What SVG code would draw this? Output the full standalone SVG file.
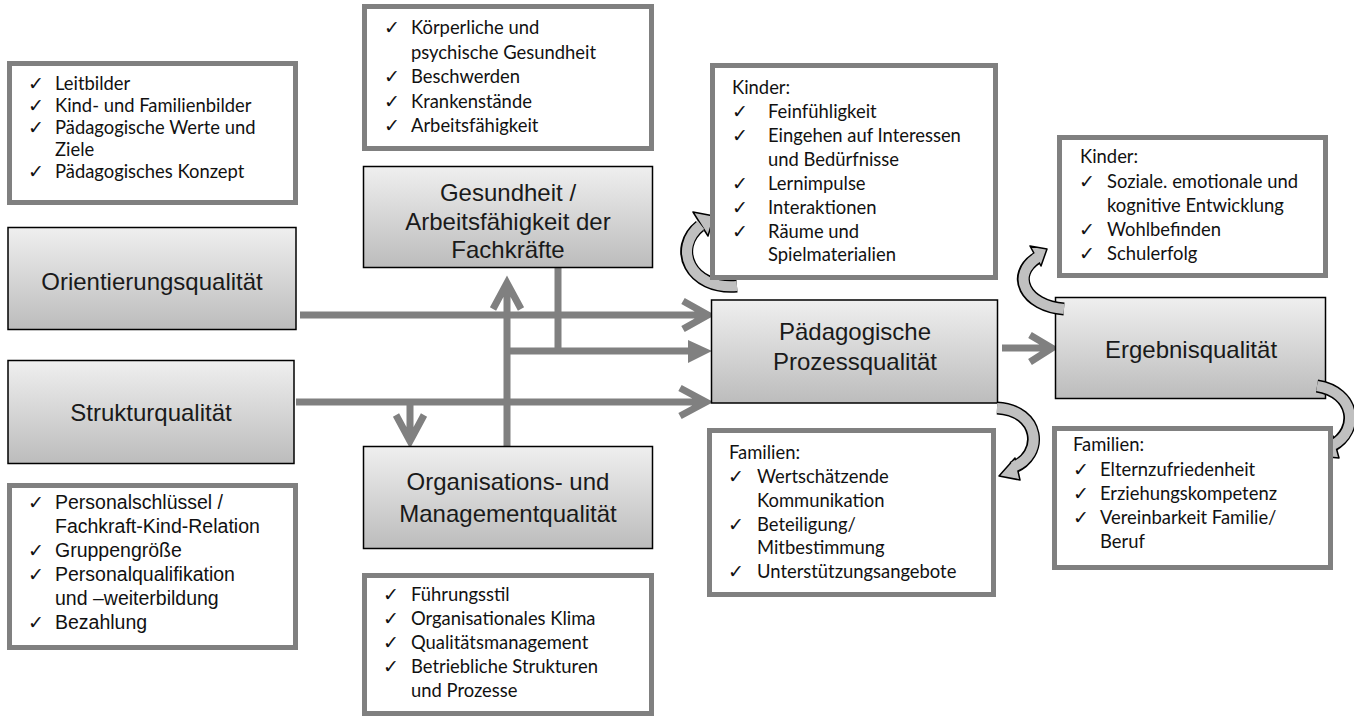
<svg xmlns="http://www.w3.org/2000/svg" width="1354" height="716" viewBox="0 0 1354 716">
<defs>
<linearGradient id="g" x1="0" y1="0" x2="0" y2="1">
<stop offset="0" stop-color="#efefef"/>
<stop offset="1" stop-color="#bcbcbc"/>
</linearGradient>
<style>
.lb{fill:#fff;stroke:#808080;stroke-width:5}
.gb{fill:url(#g);stroke:#000;stroke-width:1.5}
.gt{font-family:"Liberation Sans",Arial,sans-serif;font-size:24px;fill:#1a1a1a;text-anchor:middle}
.ct{font-family:Lato,"Open Sans",sans-serif;font-size:18.4px;fill:#111}
.at{font-family:"Liberation Sans",Arial,sans-serif;font-size:19.5px;fill:#111}
.ck{font-family:"DejaVu Sans",sans-serif;font-size:19px;fill:#111}
.ln{stroke:#808080;stroke-width:7;fill:none}
.cb{fill:none;stroke:#000;stroke-width:13}
.cg{fill:none;stroke:#c0c0c0;stroke-width:10}
.ch{fill:#c0c0c0;stroke:#000;stroke-width:1.5;stroke-linejoin:round}
</style>
</defs>

<g id="connectors">
<path class="ln" d="M300 315H706M683 301L708 315L683 329"/>
<path class="ln" d="M296 402H704M680 388L706 402L680 416"/>
<path class="ln" d="M410 402V440M396 415L410 441L424 415"/>
<path class="ln" d="M507 446V284M493 309L507 283L521 309"/>
<path class="ln" d="M558 268V351M504 351H690"/>
<polygon points="688,340 712,351 688,363" fill="#808080"/>
<path class="ln" d="M1002 348H1050M1030 335L1052 348L1030 362"/>
</g>

<g id="node-orientierung">
<rect class="gb" x="8" y="227.5" width="288" height="102"/>
<text class="gt" x="152" y="290">Orientierungsqualität</text>
</g>
<g id="node-struktur">
<rect class="gb" x="8" y="360.5" width="286" height="103"/>
<text class="gt" x="151" y="421">Strukturqualität</text>
</g>
<g id="node-gesundheit">
<rect class="gb" x="363.5" y="166.5" width="289" height="101"/>
<text class="gt" x="508" y="201">Gesundheit /</text>
<text class="gt" x="508" y="230">Arbeitsfähigkeit der</text>
<text class="gt" x="508" y="258">Fachkräfte</text>
</g>
<g id="node-organisation">
<rect class="gb" x="363.5" y="446.5" width="289" height="102"/>
<text class="gt" x="508" y="490">Organisations- und</text>
<text class="gt" x="508" y="522">Managementqualität</text>
</g>
<g id="node-prozess">
<rect class="gb" x="711.5" y="300" width="286" height="103"/>
<text class="gt" x="855" y="340">Pädagogische</text>
<text class="gt" x="855" y="370">Prozessqualität</text>
</g>
<g id="node-ergebnis">
<rect class="gb" x="1055.5" y="297.5" width="270" height="101"/>
<text class="gt" x="1191" y="358">Ergebnisqualität</text>
</g>

<g id="curved-arrows">
<path class="cb" d="M737 286C690 290 672 248 700 226"/>
<polygon class="ch" points="693,212 714,216 708,236"/>
<path class="cg" d="M737 286C690 290 672 248 701 225"/>

<path class="cb" d="M1064 309C1025 306 1010 275 1037 258"/>
<polygon class="ch" points="1030,246 1047,249 1041,266"/>
<path class="cg" d="M1064 309C1025 306 1010 275 1038 257"/>

<path class="cb" d="M997 408C1040 410 1045 455 1012 468"/>
<polygon class="ch" points="1015,458 999,476 1020,480"/>
<path class="cg" d="M997 408C1040 410 1045 455 1013 467"/>

<path class="cb" d="M1317 386C1355 392 1360 430 1332 446"/>
<polygon class="ch" points="1333,436 1317,456 1339,458"/>
<path class="cg" d="M1317 386C1355 392 1360 430 1333 445"/>
</g>

<g id="list-orientierung">
<rect class="lb" x="9.5" y="63.5" width="286" height="139"/>
<text class="ck" x="28" y="90">✓</text><text class="ct" x="55" y="90">Leitbilder</text>
<text class="ck" x="28" y="112">✓</text><text class="ct" x="55" y="112">Kind- und Familienbilder</text>
<text class="ck" x="28" y="134">✓</text><text class="ct" x="55" y="134">Pädagogische Werte und</text>
<text class="ct" x="55" y="156">Ziele</text>
<text class="ck" x="28" y="178">✓</text><text class="ct" x="55" y="178">Pädagogisches Konzept</text>
</g>

<g id="list-gesundheit">
<rect class="lb" x="364.5" y="6.5" width="287" height="142"/>
<text class="ck" x="384" y="34">✓</text><text class="ct" x="411" y="34">Körperliche und</text>
<text class="ct" x="411" y="58.5">psychische Gesundheit</text>
<text class="ck" x="384" y="83">✓</text><text class="ct" x="411" y="83">Beschwerden</text>
<text class="ck" x="384" y="107.5">✓</text><text class="ct" x="411" y="107.5">Krankenstände</text>
<text class="ck" x="384" y="132">✓</text><text class="ct" x="411" y="132">Arbeitsfähigkeit</text>
</g>

<g id="list-prozess-kinder">
<rect class="lb" x="712.5" y="65.5" width="283" height="212"/>
<text class="ct" x="732" y="94">Kinder:</text>
<text class="ck" x="732" y="118">✓</text><text class="ct" x="768" y="118">Feinfühligkeit</text>
<text class="ck" x="732" y="142">✓</text><text class="ct" x="768" y="142">Eingehen auf Interessen</text>
<text class="ct" x="768" y="166">und Bedürfnisse</text>
<text class="ck" x="732" y="189.5">✓</text><text class="ct" x="768" y="189.5">Lernimpulse</text>
<text class="ck" x="732" y="213.5">✓</text><text class="ct" x="768" y="213.5">Interaktionen</text>
<text class="ck" x="732" y="237.5">✓</text><text class="ct" x="768" y="237.5">Räume und</text>
<text class="ct" x="768" y="261">Spielmaterialien</text>
</g>

<g id="list-ergebnis-kinder">
<rect class="lb" x="1059.5" y="137.5" width="266" height="138"/>
<text class="ct" x="1080" y="163">Kinder:</text>
<text class="ck" x="1079" y="188">✓</text><text class="ct" x="1107" y="188">Soziale. emotionale und</text>
<text class="ct" x="1107" y="212">kognitive Entwicklung</text>
<text class="ck" x="1079" y="236">✓</text><text class="ct" x="1107" y="236">Wohlbefinden</text>
<text class="ck" x="1079" y="260">✓</text><text class="ct" x="1107" y="260">Schulerfolg</text>
</g>

<g id="list-prozess-familien">
<rect class="lb" x="709.5" y="430.5" width="284" height="164"/>
<text class="ct" x="729" y="459">Familien:</text>
<text class="ck" x="728" y="483">✓</text><text class="ct" x="757" y="483">Wertschätzende</text>
<text class="ct" x="757" y="506.5">Kommunikation</text>
<text class="ck" x="728" y="530.5">✓</text><text class="ct" x="757" y="530.5">Beteiligung/</text>
<text class="ct" x="757" y="554">Mitbestimmung</text>
<text class="ck" x="728" y="578">✓</text><text class="ct" x="757" y="578">Unterstützungsangebote</text>
</g>

<g id="list-ergebnis-familien">
<rect class="lb" x="1054.5" y="428.5" width="276" height="139"/>
<text class="ct" x="1073" y="451">Familien:</text>
<text class="ck" x="1073" y="476">✓</text><text class="ct" x="1100" y="476">Elternzufriedenheit</text>
<text class="ck" x="1073" y="500">✓</text><text class="ct" x="1100" y="500">Erziehungskompetenz</text>
<text class="ck" x="1073" y="524">✓</text><text class="ct" x="1100" y="524">Vereinbarkeit Familie/</text>
<text class="ct" x="1100" y="548">Beruf</text>
</g>

<g id="list-struktur">
<rect class="lb" x="9.5" y="485.5" width="286" height="162"/>
<text class="ck" x="28" y="509">✓</text><text class="at" x="55" y="509">Personalschlüssel /</text>
<text class="at" x="55" y="533">Fachkraft-Kind-Relation</text>
<text class="ck" x="28" y="557">✓</text><text class="at" x="55" y="557">Gruppengröße</text>
<text class="ck" x="28" y="581">✓</text><text class="at" x="55" y="581">Personalqualifikation</text>
<text class="at" x="55" y="605">und –weiterbildung</text>
<text class="ck" x="28" y="629">✓</text><text class="at" x="55" y="629">Bezahlung</text>
</g>

<g id="list-organisation">
<rect class="lb" x="364.5" y="575.5" width="287" height="138"/>
<text class="ck" x="383" y="601">✓</text><text class="ct" x="411" y="601">Führungsstil</text>
<text class="ck" x="383" y="625">✓</text><text class="ct" x="411" y="625">Organisationales Klima</text>
<text class="ck" x="383" y="649">✓</text><text class="ct" x="411" y="649">Qualitätsmanagement</text>
<text class="ck" x="383" y="673">✓</text><text class="ct" x="411" y="673">Betriebliche Strukturen</text>
<text class="ct" x="411" y="697">und Prozesse</text>
</g>
</svg>
